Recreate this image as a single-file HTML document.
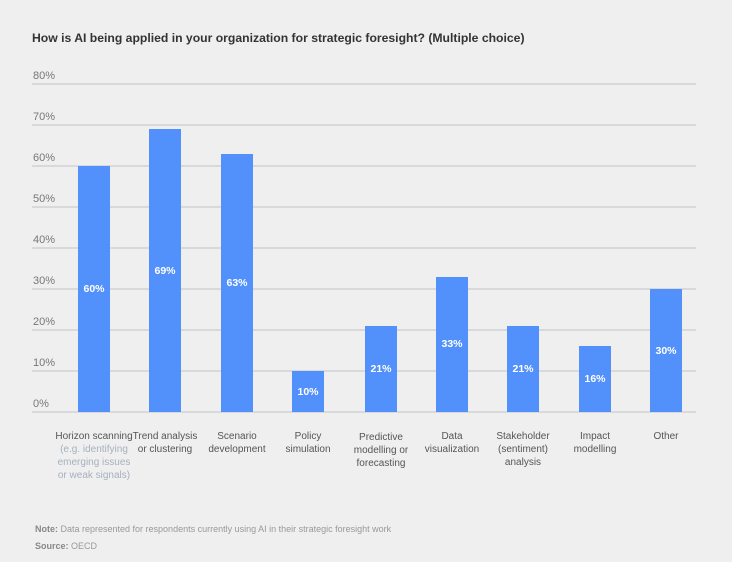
<!DOCTYPE html>
<html><head><meta charset="utf-8"><style>
body{margin:0;width:732px;height:562px;background:#efefef;font-family:"Liberation Sans",sans-serif;position:relative;overflow:hidden}
.t{position:absolute;left:32px;top:31px;font-size:12.2px;font-weight:bold;color:#333}
.g{position:absolute;left:32px;width:664px;height:2px;background:#d8d9dc}
.yl{position:absolute;left:33px;font-size:11px;color:#777}
.b{position:absolute;width:32px;background:#5291fb}
.v{position:absolute;width:32px;text-align:center;font-size:10.5px;font-weight:bold;color:#fff}
.c{position:absolute;width:90px;text-align:center;font-size:10px;line-height:13px;color:#555}
.s{color:#a6b0bf}
.n{position:absolute;left:35px;font-size:9px;color:#999}
.n b{color:#888}
</style></head><body>
<div class="t">How is AI being applied in your organization for strategic foresight? (Multiple choice)</div>
<div id="grid"></div>
<script>
var h='';
for(var i=0;i<=8;i++){var y=411-i*41;h+='<div class="g" style="top:'+y+'px"></div><div class="yl" style="top:'+(y-13)+'px">'+(i*10)+'%</div>';}
var L=[78,149,221,292,365,436,507,579,650],V=[60,69,63,10,21,33,21,16,30];
var C=['Horizon scanning<br><span class="s">(e.g. identifying<br>emerging issues<br>or weak signals)</span>','Trend analysis<br>or clustering','Scenario<br>development','Policy<br>simulation','Predictive<br>modelling or<br>forecasting','Data<br>visualization','Stakeholder<br>(sentiment)<br>analysis','Impact<br>modelling','Other'];
for(var k=0;k<9;k++){var t=412-V[k]*4.1;h+='<div class="b" style="left:'+L[k]+'px;top:'+t+'px;height:'+(412-t)+'px"></div><div class="v" style="left:'+L[k]+'px;top:'+((t+412)/2-6)+'px">'+V[k]+'%</div><div class="c" style="left:'+(L[k]-29)+'px;top:'+(k==4?431:430)+'px">'+C[k]+'</div>';}
document.getElementById('grid').innerHTML=h;
</script>
<div class="n" style="top:524px"><b>Note:</b> Data represented for respondents currently using AI in their strategic foresight work</div>
<div class="n" style="top:541px"><b>Source:</b> OECD</div>
</body></html>
